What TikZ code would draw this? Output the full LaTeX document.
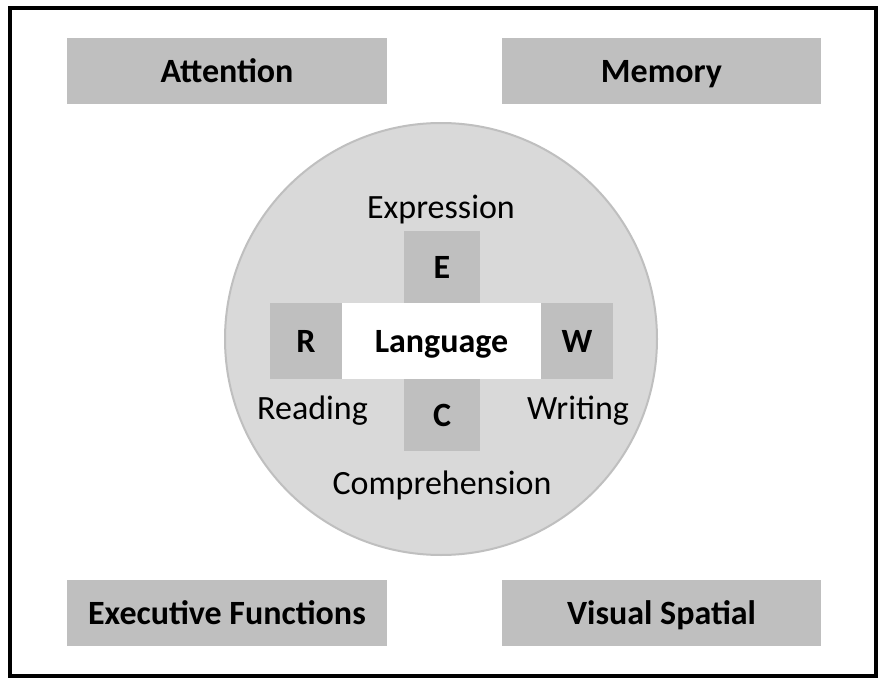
\documentclass[tikz,border=0pt]{standalone}
\usepackage{fontspec}
\setmainfont{Carlito}
\begin{document}
\begin{tikzpicture}[x=1pt,y=-1pt,
  graybox/.style={fill=boxgray,inner sep=0pt,text height=22.5pt,text depth=0pt,font=\fontsize{34}{37}\selectfont\bfseries},
  lbl/.style={inner sep=0pt,anchor=base,font=\fontsize{34}{37}\selectfont}]
\definecolor{boxgray}{HTML}{BFBFBF}
\definecolor{circgray}{HTML}{D9D9D9}
\useasboundingbox (0,0) rectangle (884,685);
\fill[white] (0,0) rectangle (884,685);
\draw[line width=3.5pt] (10,8) rectangle (876,676);
\node[graybox,minimum width=320pt,minimum height=65pt] (att) at (227,71) {Attention};
\node[graybox,minimum width=319pt,minimum height=65pt] (mem) at (661.5,71) {Memory};
\node[graybox,minimum width=320pt,minimum height=66pt] (exe) at (227,613) {Executive Functions};
\node[graybox,minimum width=319pt,minimum height=66pt] (vis) at (661.5,613) {Visual Spatial};
\node[circle,fill=circgray,draw=boxgray,line width=2pt,minimum size=432pt,inner sep=0pt] (circ) at (441,339) {};
\node[graybox,minimum width=76pt,minimum height=72pt] (E) at (442,267) {E};
\node[graybox,minimum width=76pt,minimum height=72pt] (C) at (442,415) {C};
\node[graybox,minimum width=72pt,minimum height=76pt] (R) at (306,341) {R};
\node[graybox,minimum width=72pt,minimum height=76pt] (W) at (577,341) {W};
\node[graybox,fill=white,minimum width=199pt,minimum height=76pt] (lang) at (441.5,341) {Language};
\node[lbl] (expr) at (441,218) {Expression};
\node[lbl] (read) at (312.5,419) {Reading};
\node[lbl] (writ) at (578,419) {Writing};
\node[lbl] (comp) at (442,494) {Comprehension};
\end{tikzpicture}
\end{document}
